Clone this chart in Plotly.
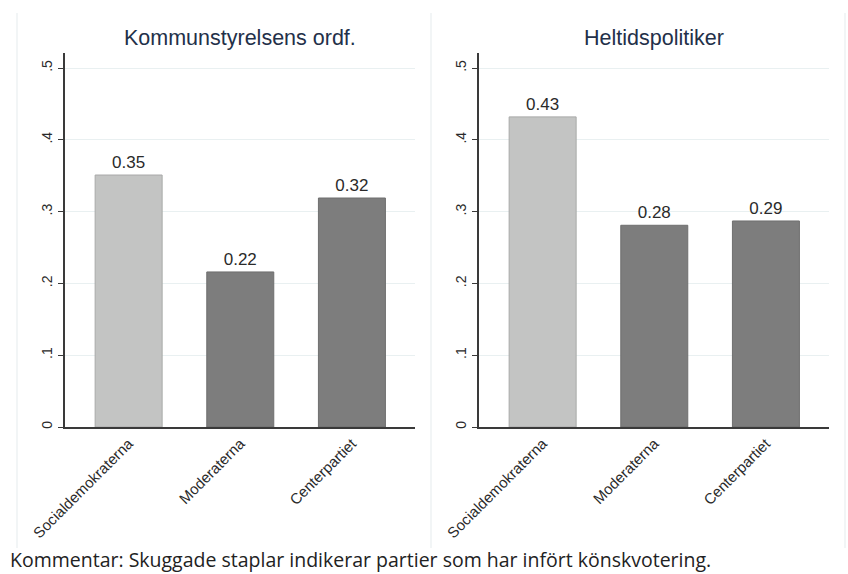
import plotly.graph_objects as go

# ---- data ----
parties = ["Socialdemokraterna", "Moderaterna", "Centerpartiet"]
ordf_values = [0.351, 0.216, 0.319]          # Kommunstyrelsens ordf.
heltid_values = [0.432, 0.281, 0.287]        # Heltidspolitiker
panel_titles = ["Kommunstyrelsens ordf.", "Heltidspolitiker"]
ytick_vals = [0, 0.1, 0.2, 0.3, 0.4, 0.5]
ytick_text = ["0", ".1", ".2", ".3", ".4", ".5"]
caption = "Kommentar: Skuggade staplar indikerar partier som har infört könskvotering."

W, H = 848, 574
LIGHT = "#c3c4c3"
DARK = "#7d7d7d"
bar_colors = [LIGHT, DARK, DARK]
FONT = "Arial, Liberation Sans, sans-serif"

xpos = list(range(len(parties)))

fig = go.Figure()
for i, vals in enumerate([ordf_values, heltid_values]):
    fig.add_trace(go.Bar(
        x=xpos, y=vals, width=0.6,
        marker=dict(color=bar_colors, line=dict(color=["#a8a9a8", "#6f6f6f", "#6f6f6f"], width=1)),
        texttemplate="%{y:.2f}", textposition="outside",
        textfont=dict(family=FONT, size=17, color="#2a2a2a"),
        cliponaxis=False,
        xaxis="x" if i == 0 else "x2",
        yaxis="y" if i == 0 else "y2",
        showlegend=False,
        hoverinfo="skip",
    ))

def px_x(p):
    return p / W

def px_y(p):
    return 1 - p / H

ydom = [px_y(427), px_y(53)]
xdoms = [[px_x(65), px_x(415)], [px_x(479), px_x(829)]]

xaxis_common = dict(
    range=[-0.57, 2.565], tickvals=xpos, ticktext=parties, tickangle=-45,
    showline=True, linecolor="#3a3a3a", linewidth=2, showgrid=False, zeroline=False,
    ticks="", tickfont=dict(family=FONT, size=15, color="#2a2a2a"), fixedrange=True,
    automargin=False,
)
yaxis_common = dict(
    range=[0, 0.521], tickvals=ytick_vals, ticktext=ytick_text, tickangle=-90,
    showline=True, linecolor="#3a3a3a", linewidth=2, showgrid=True,
    gridcolor="#e9f0f1", gridwidth=1, zeroline=False,
    ticks="outside", ticklen=5, tickcolor="#3a3a3a",
    tickfont=dict(family=FONT, size=14, color="#2a2a2a"), domain=ydom,
    automargin=False, fixedrange=True,
)

fig.update_layout(
    width=W, height=H, margin=dict(l=0, r=0, t=0, b=0, autoexpand=False),
    plot_bgcolor="white", paper_bgcolor="white",
    bargap=0.4,
    xaxis=dict(domain=xdoms[0], anchor="y", **xaxis_common),
    xaxis2=dict(domain=xdoms[1], anchor="y2", **xaxis_common),
    yaxis=dict(anchor="x", **yaxis_common),
    yaxis2=dict(anchor="x2", **yaxis_common),
)

# panel titles
for i, t in enumerate(panel_titles):
    cx = (xdoms[i][0] + xdoms[i][1]) / 2
    fig.add_annotation(text=t, x=cx, y=px_y(38), xref="paper", yref="paper",
                       showarrow=False, xanchor="center", yanchor="middle",
                       font=dict(family=FONT, size=21.5, color="#233049"))

# caption
fig.add_annotation(text=caption, x=px_x(8), y=px_y(559), xref="paper", yref="paper",
                   showarrow=False, xanchor="left", yanchor="middle",
                   font=dict(family="Open Sans, sans-serif", size=19.5, color="#222222"))

# faint panel borders
for x0 in [17, 431, 845]:
    fig.add_shape(type="line", xref="paper", yref="paper",
                  x0=px_x(x0), x1=px_x(x0), y0=px_y(548), y1=px_y(13),
                  line=dict(color="#eef2f3", width=1.5), layer="below")

fig.write_html("out.html", config={"displayModeBar": False},
               post_script="document.body.style.margin='0';document.body.style.overflow='hidden';")
